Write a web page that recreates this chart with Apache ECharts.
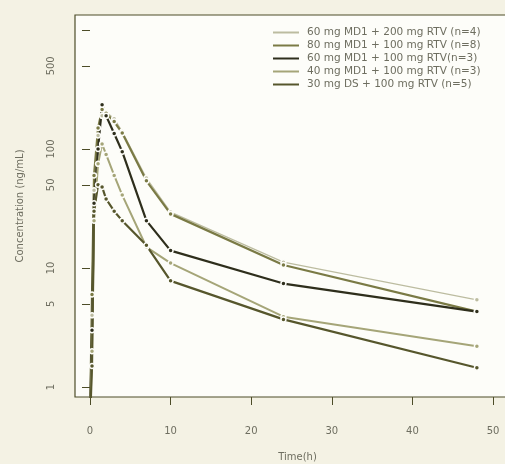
<!DOCTYPE html>
<html>
<head>
<meta charset="utf-8">
<script src="https://cdn.jsdelivr.net/npm/echarts@6/dist/echarts.min.js"></script>
<style>
  html, body { margin: 0; padding: 0; background: #f4f2e4; }
  #chart { width: 505px; height: 464px; }
</style>
</head>
<body>
<div id="chart"></div>
<script>
// sampling times (h)
const timeHours = [0, 0.25, 0.5, 1, 1.5, 2, 3, 4, 7, 10, 24, 48];

const seriesNames = [
  '60 mg MD1 + 200 mg RTV (n=4)',
  '80 mg MD1 + 100 mg RTV (n=8)',
  '60 mg MD1 + 100 mg RTV(n=3)',
  '40 mg MD1 + 100 mg RTV (n=3)',
  '30 mg DS + 100 mg RTV (n=5)'
];

// concentrations (ng/mL)
const conc60md200 = [0.5, 4, 45, 130, 190, 205, 180, 140, 57, 29.5, 11.2, 5.4];
const conc80md100 = [0.5, 6, 60, 150, 215, 200, 170, 136, 54, 28.5, 10.6, 4.3];
const conc60md100 = [0.5, 3, 35, 100, 235, 190, 135, 95, 25, 14, 7.4, 4.3];
const conc40md100 = [0.5, 2, 25, 75, 110, 90, 60, 41, 15, 11, 3.9, 2.2];
const conc30ds100 = [0.5, 1.5, 30, 50, 48, 38, 30, 25, 15.5, 7.8, 3.7, 1.45];

const xTickValues = [0, 10, 20, 30, 40, 50];
const yTickValues = [1, 5, 10, 50, 100, 500, 1000];
const yLabelValues = [1, 5, 10, 50, 100, 500];

const chart = echarts.init(document.getElementById('chart'));

const plotBg = '#fdfdf9';
const axisColor = '#4d4d28';
const textColor = '#6e6e60';

const makeSeries = (name, values, color, width) => ({
  name: name,
  type: 'line',
  data: timeHours.map((t, i) => [t, values[i]]),
  symbol: 'circle',
  symbolSize: 5,
  lineStyle: { color: color, width: width },
  itemStyle: { color: color, borderColor: plotBg, borderWidth: 1.5 },
  emphasis: { disabled: true },
  clip: true
});

const option = {
  animation: false,
  backgroundColor: '#f4f2e4',
  textStyle: { fontFamily: 'DejaVu Sans' },
  grid: {
    left: 75,
    top: 15,
    width: 445,
    height: 382,
    outerBoundsMode: 'none',
    show: true,
    backgroundColor: plotBg,
    borderColor: axisColor,
    borderWidth: 1.2
  },
  legend: {
    orient: 'vertical',
    left: 272,
    top: 27,
    padding: 0,
    itemWidth: 26,
    itemHeight: 9,
    itemGap: 2,
    selectedMode: false,
    itemStyle: { opacity: 0 },
    textStyle: { fontSize: 10.5, color: textColor, padding: [0, 0, 0, 3] },
    data: seriesNames
  },
  xAxis: {
    type: 'value',
    min: -1.86,
    max: 53.35,
    name: 'Time(h)',
    nameLocation: 'middle',
    nameGap: 55,
    nameTextStyle: { fontSize: 10, color: textColor },
    axisLine: { show: false },
    splitLine: { show: false },
    axisTick: {
      show: true,
      length: 8,
      lineStyle: { color: axisColor },
      customValues: xTickValues
    },
    axisLabel: {
      fontSize: 10,
      color: textColor,
      margin: 29,
      customValues: xTickValues
    }
  },
  yAxis: {
    type: 'log',
    logBase: 10,
    min: 0.824,
    max: 1337,
    name: 'Concentration (ng/mL)',
    nameLocation: 'middle',
    nameGap: 50,
    nameTextStyle: { fontSize: 10, color: textColor },
    axisLine: { show: false },
    splitLine: { show: false },
    minorTick: { show: false },
    axisTick: {
      show: true,
      length: 8,
      lineStyle: { color: axisColor },
      customValues: yTickValues
    },
    axisLabel: {
      fontSize: 10,
      color: textColor,
      rotate: 90,
      margin: 19,
      customValues: yLabelValues
    }
  },
  series: [
    makeSeries(seriesNames[0], conc60md200, '#bcbca0', 1.2),
    makeSeries(seriesNames[1], conc80md100, '#7a7a45', 2.2),
    makeSeries(seriesNames[2], conc60md100, '#2e2e1c', 2.2),
    makeSeries(seriesNames[3], conc40md100, '#a5a578', 2),
    makeSeries(seriesNames[4], conc30ds100, '#56562c', 2.2)
  ]
};

chart.setOption(option);
</script>
</body>
</html>
